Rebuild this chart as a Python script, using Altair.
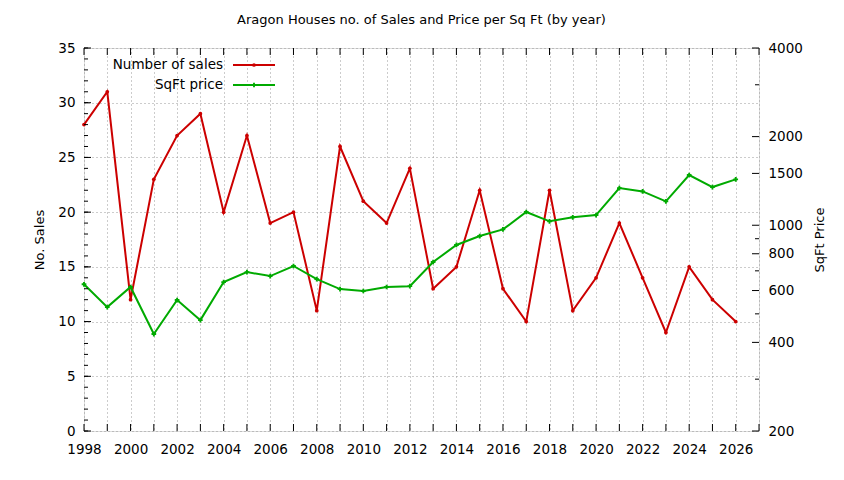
import altair as alt
import pandas as pd

years = list(range(1998, 2027))
sales = [28, 31, 12, 23, 27, 29, 20, 27, 19, 20, 11, 26, 21, 19, 24, 13, 15, 22, 13, 10,
         22, 11, 14, 19, 14, 9, 15, 12, 10]
price = [630, 527, 617, 427, 557, 476, 641, 693, 672, 727, 656, 607, 598, 617, 621, 750,
         857, 919, 968, 1109, 1031, 1064, 1083, 1337, 1303, 1205, 1481, 1348, 1432]
series_names = ["Number of sales", "SqFt price"]
series_colors = ["#cc0000", "#00aa00"]
series_shapes = ["circle", "cross"]
series_sizes = [14, 22]
left_ticks = [0, 5, 10, 15, 20, 25, 30, 35]
left_minor = list(range(0, 36))
right_labels = [200, 400, 600, 800, 1000, 1500, 2000, 4000]
right_minor = [300, 500, 700, 900, 3000]
x_grid = list(range(1998, 2028))

W, H = 675, 383
FONT = "DejaVu Sans"
GRID = "#999999"

df = pd.DataFrame({"year": years, "sales": sales, "price": price})

xscale = alt.Scale(domain=[1998, 2027], nice=False, zero=False)
xaxis = alt.Axis(values=x_grid, labelExpr="datum.value % 2 == 0 && datum.value <= 2026 ? datum.value : ''",
                 format="d", grid=True, gridDash=[1, 3], gridColor=GRID, ticks=False, domain=False,
                 labelOverlap=False, labelFlush=False, labelPadding=11, labelFontSize=13.5,
                 labelFont=FONT, labelColor="black", title=None)
lscale = alt.Scale(domain=[0, 35], nice=False, zero=True)
rscale = alt.Scale(type="log", domain=[200, 4000], nice=False)

X = alt.X("year:Q", scale=xscale, axis=xaxis)

sales_line = alt.Chart(df).mark_line(
    color=series_colors[0], strokeWidth=2,
    point=alt.OverlayMarkDef(color=series_colors[0], shape=series_shapes[0], size=series_sizes[0], filled=True)
).encode(
    x=X,
    y=alt.Y("sales:Q", scale=lscale,
            axis=alt.Axis(values=left_ticks, grid=True, gridDash=[1, 3], gridColor=GRID,
                          ticks=False, domain=False, labelPadding=9, labelFontSize=13.5,
                          labelFont=FONT, labelColor="black", title="No. Sales",
                          titleFont=FONT, titleFontSize=13, titleFontWeight="normal",
                          titleColor="black", titlePadding=11)),
)

price_line = alt.Chart(df).mark_line(
    color=series_colors[1], strokeWidth=2,
    point=alt.OverlayMarkDef(color=series_colors[1], shape=series_shapes[1], size=series_sizes[1], filled=True)
).encode(
    x=X,
    y=alt.Y("price:Q", scale=rscale,
            axis=alt.Axis(orient="right", values=right_labels, grid=False, ticks=False,
                          domain=False, labelPadding=9, labelFontSize=13.5, labelFont=FONT,
                          labelColor="black", format="d", title="SqFt Price",
                          titleFont=FONT, titleFontSize=13, titleFontWeight="normal",
                          titleColor="black", titlePadding=24, titleAngle=270)),
)

xt = pd.DataFrame({"year": x_grid})
bottom_ticks = alt.Chart(xt).mark_rule(color="black", strokeWidth=1).encode(
    x=X, y=alt.value(H), y2=alt.value(H - 7))
top_ticks = alt.Chart(xt).mark_rule(color="black", strokeWidth=1).encode(
    x=X, y=alt.value(0), y2=alt.value(7))

lmaj = pd.DataFrame({"v": left_ticks})
lmin = pd.DataFrame({"v": left_minor})
left_major_ticks = alt.Chart(lmaj).mark_rule(color="black").encode(
    y=alt.Y("v:Q", scale=lscale, axis=None), x=alt.value(0), x2=alt.value(7))
left_minor_ticks = alt.Chart(lmin).mark_rule(color="black").encode(
    y=alt.Y("v:Q", scale=lscale, axis=None), x=alt.value(0), x2=alt.value(4))

rmaj = pd.DataFrame({"v": right_labels})
rmin = pd.DataFrame({"v": right_minor})
right_major_ticks = alt.Chart(rmaj).mark_rule(color="black").encode(
    y=alt.Y("v:Q", scale=rscale, axis=None), x=alt.value(W), x2=alt.value(W - 7))
right_minor_ticks = alt.Chart(rmin).mark_rule(color="black").encode(
    y=alt.Y("v:Q", scale=rscale, axis=None), x=alt.value(W), x2=alt.value(W - 4))

# manual gnuplot-style key (text right-aligned, sample to its right)
legend_layers = []
for i, name in enumerate(series_names):
    ypos = 17 + 20 * i
    ldf = pd.DataFrame({"series": [name]})
    legend_layers.append(alt.Chart(ldf).mark_text(
        align="right", baseline="middle", font=FONT, fontSize=13.5, color="black").encode(
        x=alt.value(139), y=alt.value(ypos), text="series:N"))
    legend_layers.append(alt.Chart(ldf).mark_rule(strokeWidth=2, color=series_colors[i]).encode(
        x=alt.value(149), x2=alt.value(191), y=alt.value(ypos)))
    legend_layers.append(alt.Chart(ldf).mark_point(
        shape=series_shapes[i], size=series_sizes[i], filled=True, opacity=1,
        color=series_colors[i]).encode(x=alt.value(170), y=alt.value(ypos)))

chart = alt.layer(
    sales_line, price_line,
    bottom_ticks, top_ticks,
    left_major_ticks, left_minor_ticks, right_major_ticks, right_minor_ticks,
    *legend_layers,
).resolve_scale(y="independent").properties(
    width=W, height=H,
    title=alt.TitleParams("Aragon Houses no. of Sales and Price per Sq Ft (by year)",
                          font=FONT, fontSize=13, fontWeight="normal", color="black",
                          anchor="middle", offset=14),
    padding={"left": 76, "top": 40, "right": 76, "bottom": 40},
    autosize="none",
).configure_view(stroke="black", strokeWidth=1).configure(background="white")

chart.save("out.html", embed_options={"renderer": "svg", "actions": False})
